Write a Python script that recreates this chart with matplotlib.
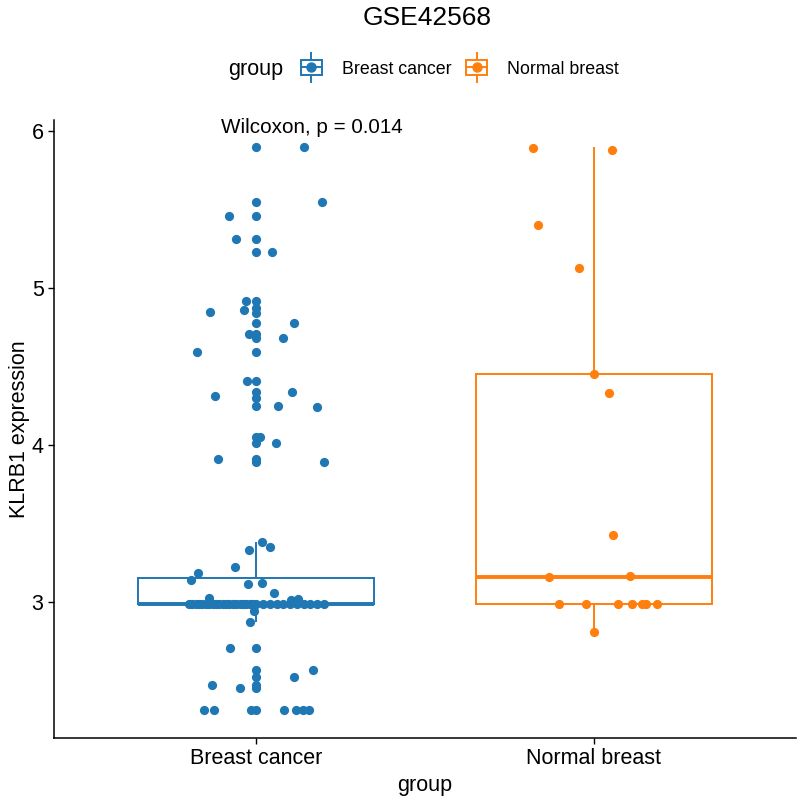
import numpy as np
import matplotlib.pyplot as plt
from matplotlib.legend_handler import HandlerBase
from matplotlib.lines import Line2D
from matplotlib.patches import Rectangle

plt.rcParams['font.family'] = ['Liberation Sans', 'DejaVu Sans']

# Groups and colours
groups = ["Breast cancer", "Normal breast"]
colors = ["#1F77B4", "#FF7F0E"]

# Box statistics (whisker low, Q1, median, Q3, whisker high)
box_whislo = [2.88, 2.81]
box_q1 = [2.985, 2.987]
box_med = [2.99, 3.16]
box_q3 = [3.153, 4.45]
box_whishi = [3.376, 5.89]

# Breast cancer expression values and their jitter offsets
cancer_values = [
    5.90, 5.90, 5.548, 5.548, 5.46, 5.46, 5.31, 5.31, 5.23, 5.23,
    4.92, 4.92, 4.85, 4.86, 4.87, 4.84, 4.78, 4.78, 4.71, 4.71,
    4.68, 4.68, 4.59, 4.59, 4.41, 4.41, 4.34, 4.34, 4.31, 4.30,
    4.25, 4.25, 4.24, 4.05, 4.05, 4.01, 4.01, 3.91, 3.91, 3.89,
    3.89, 3.38, 3.35, 3.33, 3.225, 3.185, 3.14, 3.115, 3.12, 3.06,
    3.025, 3.02, 3.01, 2.94, 2.87, 2.71, 2.71, 2.57, 2.57, 2.52,
    2.52, 2.47, 2.47, 2.45, 2.45,
    2.31, 2.31, 2.31, 2.31, 2.31, 2.31, 2.31, 2.31,
    2.985, 2.99, 2.985, 2.987, 2.99, 2.985, 2.987, 2.99, 2.985, 2.987,
    2.99, 2.985, 2.987, 2.99, 2.985, 2.987, 2.99, 2.985, 2.987, 2.99,
    2.985, 2.987, 2.99, 2.985, 2.987, 2.99, 2.985, 2.987, 2.99, 2.985,
    2.987,
]
cancer_jitter = [
    0.0, 0.142, 0.0, 0.195, -0.080, 0.0, -0.059, 0.0, 0.0, 0.047,
    -0.030, 0.0, -0.136, -0.036, 0.0, 0.0, 0.0, 0.112, -0.021, 0.0,
    0.0, 0.080, -0.175, 0.0, -0.027, 0.0, 0.0, 0.107, -0.124, 0.0,
    0.0, 0.065, 0.180, 0.0, 0.012, 0.0, 0.059, -0.115, 0.0, 0.0,
    0.201, 0.018, 0.041, -0.021, -0.062, -0.172, -0.195, -0.024, 0.018, 0.053,
    -0.139, 0.124, 0.104, -0.006, -0.018, -0.077, 0.0, 0.0, 0.169, 0.0,
    0.112, 0.0, -0.133, 0.0, -0.050,
    -0.154, -0.127, -0.015, 0.0, 0.083, 0.118, 0.139, 0.157,
    -0.20, -0.19, -0.18, -0.17, -0.16, -0.15, -0.14, -0.13, -0.12, -0.11,
    -0.10, -0.09, -0.08, -0.07, -0.06, -0.05, -0.04, -0.03, -0.02, -0.01,
    0.0, 0.02, 0.04, 0.06, 0.08, 0.10, 0.12, 0.14, 0.16, 0.18,
    0.20,
]

# Normal breast expression values and jitter offsets
normal_values = [5.89, 5.88, 5.40, 5.13, 4.45, 4.33, 3.43, 3.16, 3.165,
                 2.987, 2.987, 2.987, 2.987, 2.987, 2.987, 2.987, 2.81]
normal_jitter = [-0.18, 0.053, -0.166, -0.044, 0.0, 0.047, 0.056, -0.133, 0.109,
                 -0.104, -0.024, 0.071, 0.115, 0.142, 0.154, 0.189, 0.0]

pvalue_label = "Wilcoxon, p = 0.014"


class BoxHandler(HandlerBase):
    # ggplot style boxplot key with a point in the middle
    def create_artists(self, legend, orig_handle, xdescent, ydescent,
                       width, height, fontsize, trans):
        c = orig_handle.get_color()
        cx = -xdescent + width / 2
        cy = -ydescent + height / 2
        bh = 0.42 * fontsize
        wh = 0.80 * fontsize
        rect = Rectangle((-xdescent, cy - bh), width, 2 * bh, facecolor='white',
                         edgecolor=c, linewidth=1.4, transform=trans)
        med = Line2D([-xdescent, -xdescent + width], [cy, cy], color=c, lw=1.4, transform=trans)
        w1 = Line2D([cx, cx], [cy + bh, cy + wh], color=c, lw=1.4, transform=trans)
        w2 = Line2D([cx, cx], [cy - bh, cy - wh], color=c, lw=1.4, transform=trans)
        dot = Line2D([cx], [cy], marker='o', markersize=6.5, color=c, lw=0, transform=trans)
        return [rect, med, w1, w2, dot]


fig = plt.figure(figsize=(8, 8.01), dpi=100)
ax = fig.add_axes([54 / 800, 63 / 801, 742 / 800, 618 / 801])

# Boxes
stats = []
for i in range(2):
    stats.append(dict(whislo=box_whislo[i], q1=box_q1[i], med=box_med[i],
                      q3=box_q3[i], whishi=box_whishi[i], label=groups[i]))
bp = ax.bxp(stats, positions=[0, 1], widths=0.7, showfliers=False, showcaps=False,
            patch_artist=True, manage_ticks=False)
for i in range(2):
    bp['boxes'][i].set(facecolor='white', edgecolor=colors[i], linewidth=1.4)
    bp['medians'][i].set(color=colors[i], linewidth=2.8)
    for w in bp['whiskers'][2 * i:2 * i + 2]:
        w.set(color=colors[i], linewidth=1.4)

# Jittered points
ax.scatter(0 + np.array(cancer_jitter), cancer_values, s=44, color=colors[0],
           linewidths=0, zorder=3)
ax.scatter(1 + np.array(normal_jitter), normal_values, s=44, color=colors[1],
           linewidths=0, zorder=3)

ax.text(-0.104, 6.025, pvalue_label, fontsize=14.9, ha='left', va='center')

ax.set_xlim(-0.6, 1.6)
ax.set_ylim(2.134, 6.07)
ax.set_xticks([0, 1])
ax.set_xticklabels(groups, fontsize=15.5)
ax.set_yticks([3, 4, 5, 6])
ax.set_yticklabels(["3", "4", "5", "6"], fontsize=15.5)
ax.tick_params(length=4, width=1, colors='black')
for side in ['top', 'right']:
    ax.spines[side].set_visible(False)
for side in ['left', 'bottom']:
    ax.spines[side].set_linewidth(1.1)
ax.set_xlabel("group", fontsize=15.5, labelpad=4)
ax.set_ylabel("KLRB1 expression", fontsize=15.5, labelpad=1)

# Title and legend on top
fig.text(427 / 800, 1 - 18 / 801, "GSE42568", fontsize=19, ha='center', va='center')
fig.text(228 / 800, 1 - 69 / 801, "group", fontsize=15.5, ha='left', va='center')
handles = [Line2D([], [], color=colors[0]), Line2D([], [], color=colors[1])]
fig.legend(handles, groups, handler_map={Line2D: BoxHandler()}, ncol=2,
           loc='center left', bbox_to_anchor=(301 / 800, 1 - 69 / 801),
           frameon=False, fontsize=12.8, handlelength=1.18, handletextpad=1.1,
           columnspacing=0.85, borderpad=0, borderaxespad=0)

plt.savefig("out.png", dpi=100)
